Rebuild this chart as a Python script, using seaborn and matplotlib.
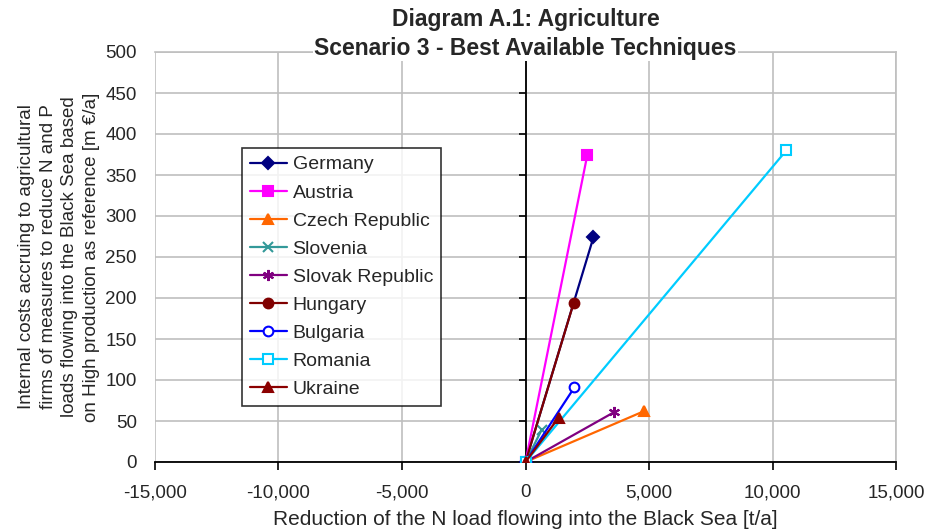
import matplotlib
matplotlib.use("Agg")
import matplotlib.pyplot as plt
import seaborn as sns
import pandas as pd
from matplotlib.ticker import FuncFormatter, MultipleLocator

countries = ["Germany", "Austria", "Czech Republic", "Slovenia", "Slovak Republic",
             "Hungary", "Bulgaria", "Romania", "Ukraine"]
# end point of each line (every line starts at the origin)
n_reduction = [2750, 2500, 4800, 650, 3600, 1950, 1980, 10560, 1340]   # t/a
costs = [274, 374, 62, 39, 61, 194, 91, 380, 54]                        # m EUR/a

colors = ["#000080", "#FF00FF", "#FF6600", "#339999", "#800080",
          "#800000", "#0000FF", "#00CCFF", "#8B0000"]
markers = ["D", "s", "^", "x", (6, 2, 0), "o", "o", "s", "^"]
msizes = [6, 7, 7, 7, 8, 7, 7, 7, 7]
face = ["#000080", "#FF00FF", "#FF6600", "#339999", "#800080",
        "#800000", "white", "white", "#8B0000"]

rows = []
for c, xr, yc in zip(countries, n_reduction, costs):
    rows.append({"country": c, "reduction": 0, "cost": 0})
    rows.append({"country": c, "reduction": xr, "cost": yc})
df = pd.DataFrame(rows)

sns.set_style("white")
plt.rcParams["font.family"] = ["Liberation Sans", "DejaVu Sans"]

fig = plt.figure(figsize=(9.3, 5.31), dpi=100)
ax = fig.add_axes([155 / 930, 1 - 462 / 531, 741 / 930, 410 / 531])

for i, c in enumerate(countries):
    sub = df[df["country"] == c]
    sns.lineplot(data=sub, x="reduction", y="cost", ax=ax, color=colors[i],
                 marker=markers[i], markersize=msizes[i], markerfacecolor=face[i],
                 markeredgecolor=colors[i], markeredgewidth=1.5,
                 linewidth=1.6, sort=False, label=c, zorder=3)

ax.set_xlim(-15000, 15000)
ax.set_ylim(0, 500)
ax.xaxis.set_major_locator(MultipleLocator(5000))
ax.yaxis.set_major_locator(MultipleLocator(50))
ax.xaxis.set_major_formatter(FuncFormatter(lambda v, p: f"{v:,.0f}"))
ax.grid(True, color="#BFBFBF", linewidth=1.2)
ax.set_axisbelow(True)

for s in ["top", "right"]:
    ax.spines[s].set_color("#BFBFBF")
    ax.spines[s].set_linewidth(1.2)
ax.spines["bottom"].set_color("black")
ax.spines["bottom"].set_linewidth(1.3)

# value axis crosses at x = 0, with tick marks but no labels
ax.spines["left"].set_position(("data", 0))
ax.spines["left"].set_color("black")
ax.spines["left"].set_linewidth(1.3)
ax.tick_params(axis="y", direction="out", length=5, width=1.2, color="black",
               left=True, labelleft=False)
ax.tick_params(axis="x", direction="out", length=6, width=1.2, color="black",
               pad=10, labelsize=13.5, bottom=True)
ax.set_ylabel("")

# tick labels at the left edge of the plot area
ylab = ax.secondary_yaxis("left")
ylab.yaxis.set_major_locator(MultipleLocator(50))
ylab.tick_params(axis="y", length=0, pad=13, labelsize=13.5)
ylab.spines["left"].set_visible(False)

ax.set_xlabel("Reduction of the N load flowing into the Black Sea [t/a]",
              fontsize=15, labelpad=6)
ylab.set_ylabel("Internal costs accruing to agricultural\n"
                "firms of measures to reduce N and P\n"
                "loads flowing into the Black Sea based\n"
                "on High production as reference [m \u20ac/a]",
                fontsize=13.5, labelpad=4, linespacing=1.35)

ax.text(0.5, 1.0 - 8 / 410,
        "Diagram A.1: Agriculture\nScenario 3 - Best Available Techniques",
        transform=ax.transAxes, ha="center", va="bottom", fontsize=16.5,
        fontweight="bold", linespacing=1.35,
        bbox=dict(facecolor="white", edgecolor="none", pad=1))

leg = ax.legend(loc="upper left", bbox_to_anchor=((242 - 155) / 741, (462 - 148) / 410),
                fontsize=14, frameon=True, fancybox=False, edgecolor="black",
                handlelength=1.9, handletextpad=0.3, labelspacing=0.54,
                borderpad=0.4, borderaxespad=0)
leg.get_frame().set_linewidth(1.2)

fig.savefig("out.png", dpi=100)
